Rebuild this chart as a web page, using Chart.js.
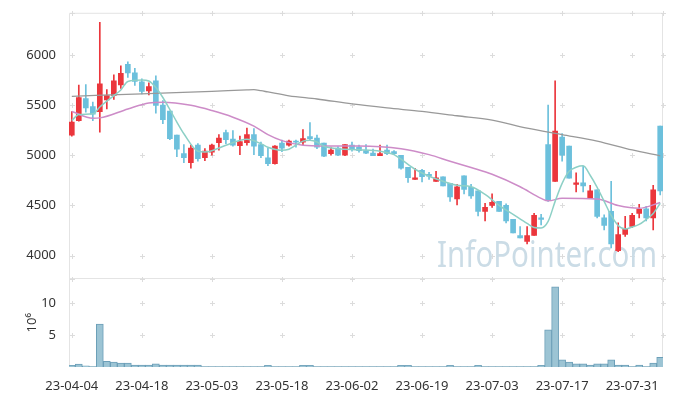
<!DOCTYPE html>
<html>
<head>
<meta charset="utf-8">
<script src="https://cdn.jsdelivr.net/npm/chart.js@4.4.0/dist/chart.umd.min.js"></script>
<style>
  html, body { margin: 0; padding: 0; background: #fff; }
  #wrap { width: 673px; height: 396px; position: relative; }
</style>
</head>
<body>
<div id="wrap"><canvas id="chart"></canvas></div>
<script>
// trading days (yy-mm-dd)
const dates = [
  '23-04-04','23-04-05','23-04-06','23-04-07','23-04-10','23-04-11','23-04-12','23-04-13','23-04-14','23-04-17',
  '23-04-18','23-04-19','23-04-20','23-04-21','23-04-24','23-04-25','23-04-26','23-04-27','23-04-28','23-05-02',
  '23-05-03','23-05-04','23-05-08','23-05-09','23-05-10','23-05-11','23-05-12','23-05-15','23-05-16','23-05-17',
  '23-05-18','23-05-19','23-05-22','23-05-23','23-05-24','23-05-25','23-05-26','23-05-30','23-05-31','23-06-01',
  '23-06-02','23-06-05','23-06-07','23-06-08','23-06-09','23-06-12','23-06-13','23-06-14','23-06-15','23-06-16',
  '23-06-19','23-06-20','23-06-21','23-06-22','23-06-23','23-06-26','23-06-27','23-06-28','23-06-29','23-06-30',
  '23-07-03','23-07-04','23-07-05','23-07-06','23-07-07','23-07-10','23-07-11','23-07-12','23-07-13','23-07-14',
  '23-07-17','23-07-18','23-07-19','23-07-20','23-07-21','23-07-24','23-07-25','23-07-26','23-07-27','23-07-28',
  '23-07-31','23-08-01','23-08-02','23-08-03','23-08-04'
];

// daily prices
const open = [
  5200,5345,5565,5485,5435,5550,5595,5700,5905,5820, 5730,5640,5740,5500,5440,5200,5015,4925,5100,4975,
  5030,5125,5225,5160,5095,5125,5205,5105,4975,4915, 5120,5100,5140,5130,5185,5170,5120,5015,5070,5000,
  5100,5080,5045,5020,4995,5050,5035,5000,4880,4760, 4850,4810,4740,4785,4720,4565,4795,4680,4645,4440,
  4500,4540,4500,4360,4200,4140,4200,4375,5105,4740, 5180,5090,4710,4725,4570,4655,4375,4440,4050,4210,
  4290,4420,4465,4375,5290
];
const high = [
  5435,5700,5705,5530,6325,5655,5800,5890,5930,5865, 5760,5720,5790,5545,5440,5200,5105,5100,5115,5065,
  5110,5205,5250,5245,5190,5270,5265,5130,5070,5095, 5150,5150,5150,5255,5325,5200,5120,5080,5085,5105,
  5130,5100,5105,5060,5100,5100,5045,5000,4880,4870, 4860,4830,4840,4785,4720,4710,4795,4710,4645,4520,
  4615,4540,4515,4360,4290,4290,4420,4410,5500,5740, 5215,5090,4825,4890,4700,4655,4405,4740,4325,4390,
  4420,4510,4490,4700,5290
];
const low = [
  5190,5340,5430,5345,5230,5460,5555,5665,5775,5695, 5610,5600,5420,5315,5155,4985,4925,4870,4940,4945,
  5000,5050,5115,5090,5005,5100,5005,4975,4895,4910, 5035,5090,5080,5105,5155,5065,4985,5000,4995,4995,
  5040,5030,5015,4995,4995,5005,5005,4860,4730,4760, 4735,4760,4740,4695,4540,4505,4615,4570,4395,4345,
  4480,4440,4325,4225,4175,4115,4200,4305,4540,4740, 4940,4770,4635,4635,4570,4375,4255,4075,4040,4190,
  4280,4375,4345,4255,4605
];
const close = [
  5330,5575,5470,5410,5710,5595,5740,5815,5820,5735, 5635,5685,5495,5355,5165,5060,4975,5070,4965,5040,
  5100,5170,5155,5100,5135,5205,5090,4995,4915,5090, 5070,5140,5130,5165,5165,5080,4990,5050,5000,5105,
  5065,5045,5020,4995,5015,5015,5015,4870,4775,4775, 4785,4790,4775,4695,4585,4685,4660,4595,4440,4480,
  4530,4440,4345,4225,4175,4200,4400,4360,4555,5240, 5000,4770,4725,4695,4645,4390,4300,4115,4210,4265,
  4400,4460,4375,4655,4645
];

// volume, millions of shares
const volume = [
  0.25,0.45,0.2,0.05,6.7,0.9,0.75,0.6,0.6,0.3, 0.3,0.3,0.5,0.3,0.3,0.3,0.3,0.3,0.3,0.05,
  0.05,0.05,0.05,0.05,0.05,0.05,0.05,0.05,0.25,0.05, 0.05,0.05,0.05,0.25,0.25,0.05,0.05,0.05,0.05,0.05,
  0.05,0.05,0.05,0.05,0.05,0.05,0.05,0.25,0.25,0.05, 0.05,0.05,0.05,0.05,0.25,0.05,0.05,0.05,0.25,0.05,
  0.05,0.05,0.05,0.05,0.05,0.05,0.05,0.25,5.8,12.5, 1.1,0.75,0.5,0.5,0.3,0.5,0.5,1.1,0.3,0.3,
  0.05,0.3,0.05,0.6,1.5
];

// moving averages, read at the given day indexes
const ma5Idx = [0,1,3,4,6,7,8,10,11,12,13,14,15,16,18,19,20,22,25,27,28,30,31,33,34,35,36,38,41,44,46,47,49,51,53,55,57,59,61,63,65,66,67,68,69,70,71,72,73,74,75,76,77,78,79,80,81,82,83,84];
const ma5 = [5346,5405,5412,5480,5594,5650,5735,5750,5740,5675,5575,5455,5330,5214,5040,5033,5045,5099,5158,5115,5080,5049,5060,5140,5148,5131,5090,5065,5055,5040,5006,4960,4860,4790,4740,4700,4686,4610,4500,4410,4320,4280,4275,4340,4540,4720,4840,4880,4894,4800,4680,4540,4400,4300,4265,4285,4310,4360,4420,4521];
const ma20Idx = [0,3,4,8,11,13,17,20,23,26,28,30,33,36,41,47,51,54,57,60,64,67,68,70,75,78,81,84];
const ma20 = [5435,5369,5372,5461,5521,5528,5497,5445,5379,5290,5205,5145,5099,5092,5092,5065,5006,4940,4877,4810,4686,4570,4545,4570,4564,4498,4471,4528];
const ma60Idx = [0,10,20,25,26,27,28,31,35,40,45,50,55,60,65,70,75,80,84];
const ma60 = [5587,5612,5636,5651,5653,5643,5630,5592,5560,5511,5471,5436,5393,5350,5270,5206,5141,5052,4993];

const tickIdx = [0,10,20,30,40,50,60,70,80];
const priceTicks = [4000,4500,5000,5500,6000];
const volTicks = [5,10];

const RED = '#eb363c';
const BLUE = '#6cc0dc';
const candleColor = open.map((o, i) => close[i] >= o ? RED : BLUE);
const font = { family: '"Noto Sans", sans-serif', size: 13 };

// grille en petites croix + cadre + filigrane
const frame = {
  id: 'frame',
  beforeDraw(chart) {
    const { ctx, chartArea: a, scales } = chart;
    const { x, y, vol } = scales;
    ctx.save();
    ctx.fillStyle = '#fff';
    ctx.fillRect(0, 0, chart.width, chart.height);

    ctx.strokeStyle = '#e4e4e4';
    ctx.lineWidth = 1;
    const sep = Math.round(y.bottom) + 0.5;
    ctx.beginPath();
    ctx.moveTo(a.left + 0.5, a.top + 0.5); ctx.lineTo(a.right - 0.5, a.top + 0.5);
    ctx.lineTo(a.right - 0.5, a.bottom - 0.5); ctx.lineTo(a.left + 0.5, a.bottom - 0.5);
    ctx.closePath();
    ctx.moveTo(a.left, sep); ctx.lineTo(a.right, sep);
    ctx.stroke();

    const xs = tickIdx.map(v => x.getPixelForValue(v)).concat([a.right - 0.5]);
    const ys = [a.top + 0.5, sep]
      .concat(priceTicks.map(v => y.getPixelForValue(v)))
      .concat(volTicks.map(v => vol.getPixelForValue(v)));
    ctx.strokeStyle = '#dcdcdc';
    ctx.beginPath();
    for (const px of xs) {
      for (const py of ys) {
        const cx = Math.round(px) + 0.5, cy = Math.round(py) + 0.5;
        ctx.moveTo(cx - 2.5, cy); ctx.lineTo(cx + 2.5, cy);
        ctx.moveTo(cx, cy - 2.5); ctx.lineTo(cx, cy + 2.5);
      }
    }
    ctx.stroke();
    ctx.restore();
  },
  beforeDatasetsDraw(chart) {
    const ctx = chart.ctx;
    const t = 'InfoPointer.com';
    ctx.save();
    ctx.font = '36px "Noto Sans", sans-serif';
    const w = ctx.measureText(t).width;
    ctx.translate(437, 267);
    ctx.scale(220 / w, 1);
    ctx.fillStyle = '#cbdce6';
    ctx.textBaseline = 'alphabetic';
    ctx.fillText(t, 0, 0);
    ctx.restore();
  }
};

const pts = (idx, vals) => idx.map((v, k) => ({ x: v, y: vals[k] }));

new Chart(document.getElementById('chart'), {
  data: {
    datasets: [
      { type: 'line', label: 'MA5', data: pts(ma5Idx, ma5), yAxisID: 'y', order: 0,
        borderColor: '#8dd0c6', borderWidth: 1.5, pointRadius: 0, cubicInterpolationMode: 'monotone' },
      { type: 'line', label: 'MA20', data: pts(ma20Idx, ma20), yAxisID: 'y', order: 0,
        borderColor: '#cd8cc8', borderWidth: 1.5, pointRadius: 0, cubicInterpolationMode: 'monotone' },
      { type: 'line', label: 'MA60', data: pts(ma60Idx, ma60), yAxisID: 'y', order: 0,
        borderColor: '#999999', borderWidth: 1.3, pointRadius: 0, cubicInterpolationMode: 'monotone' },
      { type: 'bar', label: 'body', yAxisID: 'y', order: 1, grouped: false,
        data: open.map((o, i) => ({ x: i, y: [Math.min(o, close[i]), Math.max(o, close[i])] })),
        backgroundColor: candleColor, barThickness: 5, minBarLength: 1, borderWidth: 0 },
      { type: 'bar', label: 'wick', yAxisID: 'y', order: 2, grouped: false,
        data: low.map((l, i) => ({ x: i, y: [l, high[i]] })),
        backgroundColor: candleColor, barThickness: 1, borderWidth: 0 },
      { type: 'bar', label: 'volume', yAxisID: 'vol', order: 3, grouped: false,
        data: volume.map((v, i) => ({ x: i, y: v })),
        backgroundColor: '#9cc4d4', borderColor: '#6c9fb8', borderWidth: 1,
        barPercentage: 1, categoryPercentage: 1 }
    ]
  },
  options: {
    responsive: true,
    maintainAspectRatio: false,
    animation: false,
    layout: { padding: { top: 10, right: 10, left: 0, bottom: 0 } },
    plugins: { legend: { display: false }, tooltip: { enabled: false } },
    scales: {
      x: {
        type: 'linear', min: -0.4, max: 84.4, offset: false,
        afterBuildTicks: s => { s.ticks = tickIdx.map(v => ({ value: v })); },
        afterFit: s => { s.height = 29; },
        grid: { display: false, offset: false }, border: { display: false },
        ticks: { font, color: '#333', padding: 3, maxRotation: 0, autoSkip: false,
                 callback: v => dates[v] }
      },
      vol: {
        type: 'linear', position: 'left', stack: 'main', stackWeight: 1,
        min: 0, max: 13.8,
        afterBuildTicks: s => { s.ticks = volTicks.map(v => ({ value: v })); },
        afterFit: s => { s.width = 69; },
        grid: { display: false }, border: { display: false },
        ticks: { font, color: '#333', padding: 5, callback: v => String(v) },
        title: { display: true, text: '10⁶', font, color: '#333', padding: { top: 24, bottom: 0 } }
      },
      y: {
        type: 'linear', position: 'left', stack: 'main', stackWeight: 3,
        min: 3772, max: 6419,
        afterBuildTicks: s => { s.ticks = priceTicks.map(v => ({ value: v })); },
        afterFit: s => { s.width = 69; },
        grid: { display: false }, border: { display: false },
        ticks: { font, color: '#333', padding: 5, callback: v => String(v) }
      }
    }
  },
  plugins: [frame]
});
</script>
</body>
</html>
